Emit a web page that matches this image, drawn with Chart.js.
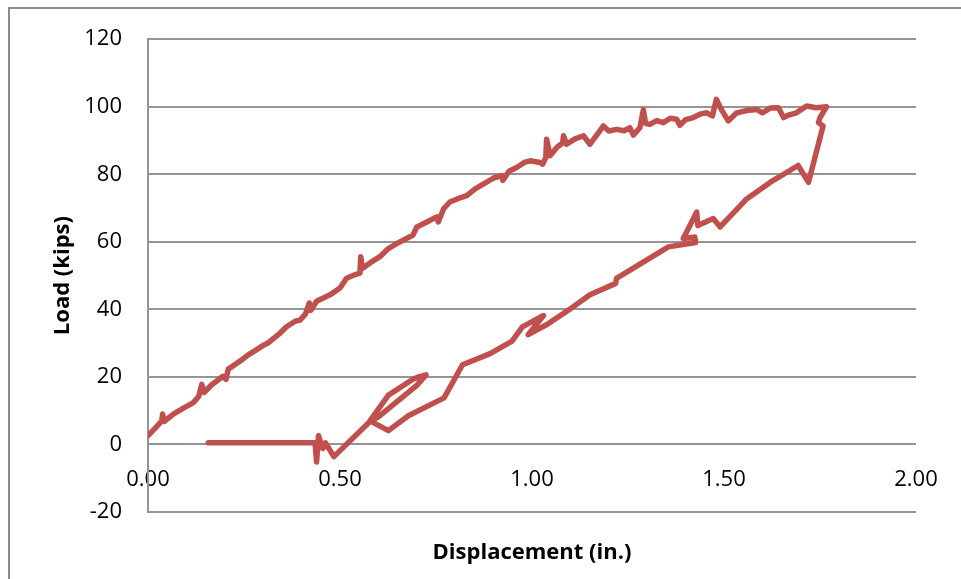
<!DOCTYPE html>
<html>
<head>
<meta charset="utf-8">
<script src="https://cdn.jsdelivr.net/npm/chart.js@4.4.1/dist/chart.umd.min.js"></script>
<style>
  body { margin: 0; background: #fff; overflow: hidden; }
  #frame { position: absolute; left: 8px; top: 7px; width: 990px; height: 600px; border: 2px solid #8a8a8a; }
  #chart { position: absolute; left: 0; top: 0; }
</style>
</head>
<body>
<div id="frame"></div>
<canvas id="chart" width="961" height="579"></canvas>
<script>
// loading branch (going out to max displacement)
const loadDisp = [0.000, 0.020, 0.036, 0.038, 0.042, 0.066, 0.090, 0.118, 0.132, 0.140, 0.146, 0.165, 0.179, 0.195, 0.203, 0.209,
  0.240, 0.262, 0.283, 0.298, 0.313, 0.344, 0.360, 0.383, 0.396, 0.410, 0.420, 0.424, 0.439, 0.474, 0.500, 0.517, 0.540,
  0.552, 0.554, 0.558, 0.580, 0.604, 0.626, 0.650, 0.673, 0.690, 0.700, 0.725, 0.752, 0.756, 0.770, 0.786, 0.810, 0.830,
  0.852, 0.873, 0.900, 0.921, 0.924, 0.940, 0.960, 0.980, 0.995, 1.021, 1.028, 1.036, 1.038, 1.047, 1.065, 1.080, 1.082,
  1.090, 1.112, 1.134, 1.151, 1.170, 1.186, 1.200, 1.220, 1.240, 1.255, 1.264, 1.281, 1.290, 1.296, 1.307, 1.325, 1.342,
  1.360, 1.377, 1.385, 1.400, 1.420, 1.440, 1.455, 1.470, 1.480, 1.494, 1.511, 1.533, 1.560, 1.585, 1.600, 1.620, 1.642,
  1.655, 1.670, 1.689, 1.715, 1.740, 1.767];
const loadKips = [2.6, 5.0, 7.0, 9.0, 6.8, 9.0, 10.6, 12.4, 14.2, 17.8, 15.4, 17.6, 18.8, 20.2, 19.3, 22.3,
  24.7, 26.6, 28.1, 29.2, 30.1, 33.0, 34.8, 36.5, 36.8, 38.6, 41.9, 39.7, 42.4, 44.3, 46.3, 49.2, 50.3,
  50.7, 55.6, 52.1, 53.9, 55.6, 58.0, 59.6, 61.0, 62.0, 64.4, 65.8, 67.4, 65.9, 69.8, 71.8, 72.9, 73.7,
  75.7, 77.1, 78.9, 79.6, 78.2, 80.9, 82.0, 83.5, 84.0, 83.5, 83.0, 85.0, 90.4, 85.5, 88.0, 89.3, 91.4,
  88.9, 90.5, 91.4, 88.9, 91.8, 94.3, 92.8, 93.3, 92.9, 93.8, 91.6, 93.8, 99.1, 95.0, 94.8, 95.9, 95.3,
  96.6, 96.3, 94.5, 96.2, 96.8, 97.9, 98.2, 97.3, 102.2, 99.0, 95.8, 98.2, 98.9, 99.2, 98.2, 99.6, 99.7,
  96.8, 97.6, 98.2, 100.2, 99.7, 100.0];

// unloading branch (coming back)
const unloadDisp = [1.750, 1.746, 1.758, 1.720, 1.693, 1.620, 1.559, 1.490, 1.472, 1.432, 1.429, 1.394, 1.424, 1.426, 1.355,
  1.220, 1.218, 1.151, 1.090, 1.040, 0.990, 1.030, 0.975, 0.948, 0.891, 0.819, 0.771, 0.678, 0.626, 0.578,
  0.626, 0.690, 0.705, 0.724, 0.700, 0.600, 0.578, 0.484, 0.462, 0.455, 0.444, 0.439, 0.435, 0.157];
const unloadKips = [96.8, 95.3, 94.3, 77.6, 82.6, 77.6, 72.7, 64.4, 66.9, 64.8, 68.8, 61.0, 61.4, 59.8, 58.5,
  49.2, 47.7, 44.3, 39.4, 35.6, 32.5, 38.2, 34.8, 30.6, 26.9, 23.6, 13.8, 8.5, 4.1, 7.0,
  14.6, 19.3, 20.0, 20.6, 17.5, 8.2, 6.8, -3.6, 0.5, -1.2, 2.6, -5.2, 0.5, 0.5];

const xTicks = [0, 0.5, 1.0, 1.5, 2.0];
const yTicks = [-20, 0, 20, 40, 60, 80, 100, 120];

const points = loadDisp.map((d, i) => ({ x: d, y: loadKips[i] }))
  .concat(unloadDisp.map((d, i) => ({ x: d, y: unloadKips[i] })));

const gridColor = '#959595';
const tickFont = { family: 'Open Sans', size: 22 };
const titleFont = { family: 'Open Sans', size: 22, weight: 'bold' };

new Chart(document.getElementById('chart'), {
  type: 'scatter',
  data: {
    datasets: [{
      data: points,
      showLine: true,
      borderColor: '#C0504D',
      borderWidth: 5.5,
      pointRadius: 0,
      tension: 0,
      borderJoinStyle: 'round',
      borderCapStyle: 'round'
    }]
  },
  options: {
    responsive: false,
    animation: false,
    layout: { padding: { left: 0, top: 30, right: 45, bottom: 0 } },
    plugins: { legend: { display: false }, tooltip: { enabled: false } },
    scales: {
      x: {
        type: 'linear',
        position: { y: 0 },
        min: 0, max: 2,
        afterBuildTicks: s => { s.ticks = xTicks.map(v => ({ value: v })); },
        ticks: { font: tickFont, color: '#000', padding: 22, maxRotation: 0, callback: v => v.toFixed(2) },
        grid: { display: false, drawTicks: false },
        border: { display: false }
      },
      x2: {
        type: 'linear',
        axis: 'x',
        position: 'bottom',
        min: 0, max: 2,
        ticks: { display: false },
        grid: { display: false, drawTicks: false },
        border: { display: false },
        title: { display: true, text: 'Displacement (in.)', font: titleFont, color: '#000', padding: { top: 0, bottom: 13 } },
        afterFit: s => { s.height = 67; }
      },
      y: {
        min: -20, max: 120,
        afterBuildTicks: s => { s.ticks = yTicks.map(v => ({ value: v })); },
        ticks: { font: tickFont, color: '#000', padding: 26 },
        grid: { color: gridColor, lineWidth: 2, drawTicks: false },
        border: { display: true, color: gridColor, width: 2 },
        title: { display: true, text: 'Load (kips)', font: titleFont, color: '#000', padding: { top: 50, bottom: 0 } },
        afterFit: s => { s.width = 148; }
      }
    }
  }
});
</script>
</body>
</html>
